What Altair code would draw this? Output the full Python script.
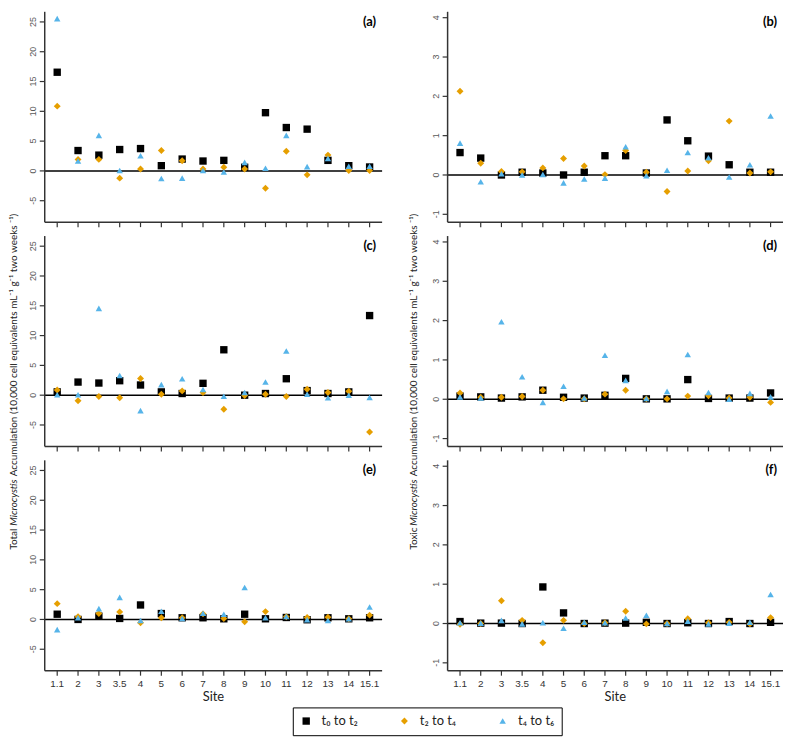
import altair as alt
import pandas as pd

sites = ["1.1", "2", "3", "3.5", "4", "5", "6", "7", "8", "9", "10", "11", "12", "13", "14", "15.1"]
series = ["t₀ to t₂", "t₂ to t₄", "t₄ to t₆"]
colors = ["#000000", "#E69F00", "#56B4E9"]
shapes = ["square", "diamond", "triangle-up"]
sizes = [55, 42, 52]

# (a) Total, upper
a_t0 = [16.56, 3.42, 2.65, 3.59, 3.75, 0.88, 1.99, 1.66, 1.77, 0.61, 9.77, 7.28, 7.01, 1.77, 0.88, 0.66]
a_t2 = [10.87, 1.93, 1.93, -1.21, 0.33, 3.42, 1.71, 0.33, 0.61, 0.33, -2.92, 3.31, -0.66, 2.65, 0.06, 0.05]
a_t4 = [25.55, 1.66, 5.96, 0.06, 2.54, -1.27, -1.21, 0.06, -0.17, 1.43, 0.44, 5.96, 0.72, 2.10, 0.77, 0.77]
# (b) Toxic, upper
b_t0 = [0.57, 0.43, 0.00, 0.07, 0.05, 0.00, 0.07, 0.49, 0.49, 0.05, 1.40, 0.87, 0.48, 0.26, 0.07, 0.07]
b_t2 = [2.13, 0.30, 0.09, 0.08, 0.18, 0.42, 0.23, 0.01, 0.62, 0.07, -0.42, 0.10, 0.36, 1.37, 0.05, 0.08]
b_t4 = [0.81, -0.17, 0.03, 0.00, 0.01, -0.20, -0.10, -0.08, 0.72, -0.02, 0.12, 0.57, 0.44, -0.05, 0.26, 1.50]
# (c) Total, middle
c_t0 = [0.55, 2.20, 2.04, 2.43, 1.71, 0.55, 0.28, 1.99, 7.62, 0.00, 0.28, 2.76, 0.77, 0.28, 0.55, 13.36]
c_t2 = [0.88, -0.94, -0.22, -0.44, 2.81, 0.17, 0.72, 0.44, -2.37, -0.06, 0.17, -0.22, 0.99, 0.44, 0.66, -6.18]
c_t4 = [0.06, 0.06, 14.57, 3.31, -2.59, 1.77, 2.76, 0.94, -0.17, 0.44, 2.21, 7.40, 0.17, -0.44, 0.00, -0.39]
# (d) Toxic, middle
d_t0 = [0.08, 0.06, 0.03, 0.06, 0.23, 0.05, 0.03, 0.10, 0.53, 0.01, 0.01, 0.50, 0.02, 0.03, 0.03, 0.16]
d_t2 = [0.16, 0.05, 0.05, 0.07, 0.23, 0.01, 0.01, 0.13, 0.23, 0.01, 0.01, 0.08, 0.09, 0.03, 0.05, -0.08]
d_t4 = [0.06, 0.03, 1.97, 0.57, -0.08, 0.33, 0.03, 1.12, 0.48, 0.02, 0.20, 1.14, 0.17, 0.00, 0.15, 0.06]
# (e) Total, lower
e_t0 = [0.88, 0.00, 0.55, 0.17, 2.43, 0.99, 0.28, 0.28, 0.11, 0.88, 0.11, 0.33, -0.05, 0.28, 0.11, 0.28]
e_t2 = [2.65, 0.44, 0.99, 1.27, -0.55, 0.28, 0.28, 0.94, 0.17, -0.39, 1.32, 0.44, 0.33, 0.39, 0.11, 0.72]
e_t4 = [-1.71, 0.28, 1.82, 3.70, -0.17, 1.38, 0.17, 1.05, 0.88, 5.35, 0.28, 0.50, -0.05, -0.17, 0.11, 2.10]
# (f) Toxic, lower
f_t0 = [0.05, 0.01, 0.01, 0.00, 0.93, 0.27, 0.00, 0.01, 0.01, 0.03, 0.00, 0.02, 0.00, 0.05, 0.00, 0.03]
f_t2 = [-0.02, 0.00, 0.58, 0.08, -0.49, 0.08, 0.00, 0.02, 0.31, -0.01, 0.00, 0.12, 0.02, 0.03, -0.01, 0.15]
f_t4 = [0.02, 0.01, 0.08, -0.01, 0.02, -0.12, 0.03, 0.02, 0.14, 0.21, 0.00, 0.06, -0.01, 0.01, 0.03, 0.74]

total_domain = [-8.6, 26.7]
total_ticks = [-5, 0, 5, 10, 15, 20, 25]
toxic_domain = [-1.2, 4.15]
toxic_ticks = [-1, 0, 1, 2, 3, 4]

title_rest = "Accumulation (10,000 cell equivalents mL⁻¹ g⁻¹ two weeks ⁻¹)"

LEFT_W, RIGHT_W, H = 340, 338, 212
X_PAD = 0.6
TICK_PX = 5
AXIS_COLOR = "#333333"
LABEL_COLOR = "#595959"
FONT = "Lato"


def panel(t0, t2, t4, total, label, bottom):
    rows = []
    for s, vals in zip(series, [t0, t2, t4]):
        for i, (site, v) in enumerate(zip(sites, vals)):
            rows.append({"idx": i, "site": site, "series": s, "value": v})
    df = pd.DataFrame(rows)
    w = LEFT_W if total else RIGHT_W
    dom = total_domain if total else toxic_domain
    ticks = total_ticks if total else toxic_ticks

    xdom_vals = [-X_PAD, len(sites) - 1 + X_PAD]
    xs = alt.Scale(domain=xdom_vals, nice=False, zero=False)
    ys = alt.Scale(domain=dom, nice=False, zero=False)
    # tick lengths expressed in data units of each scale
    x_unit = (xdom_vals[1] - xdom_vals[0]) / w
    y_unit = (dom[1] - dom[0]) / H

    leg = alt.Legend(orient="none", legendX=286, legendY=701, direction="horizontal", title=None)

    pts = alt.Chart(df).mark_point(filled=True, opacity=1, strokeWidth=0).encode(
        x=alt.X("idx:Q", scale=xs, axis=None),
        y=alt.Y("value:Q", scale=ys, axis=None),
        color=alt.Color("series:N", sort=series, scale=alt.Scale(domain=series, range=colors),
                        legend=leg),
        shape=alt.Shape("series:N", sort=series, scale=alt.Scale(domain=series, range=shapes),
                        legend=leg),
        size=alt.Size("series:N", scale=alt.Scale(domain=series, range=sizes), legend=None),
    )
    zero = alt.Chart(pd.DataFrame({"z": [0]})).mark_rule(color="black", strokeWidth=1.5).encode(
        y=alt.Y("z:Q", scale=ys, axis=None)
    )
    frame = pd.DataFrame({
        "x0": [xdom_vals[0]], "x1": [xdom_vals[1]], "y0": [dom[0]], "y1": [dom[1]],
    })
    xaxis_line = alt.Chart(frame).mark_rule(color=AXIS_COLOR, strokeWidth=1.5).encode(
        x=alt.X("x0:Q", scale=xs, axis=None), x2="x1:Q",
        y=alt.Y("y0:Q", scale=ys, axis=None),
    )
    yaxis_line = alt.Chart(frame).mark_rule(color=AXIS_COLOR, strokeWidth=1.5).encode(
        x=alt.X("x0:Q", scale=xs, axis=None),
        y=alt.Y("y0:Q", scale=ys, axis=None), y2="y1:Q",
    )
    tick_df = pd.DataFrame({
        "v": ticks, "lab": [str(t) for t in ticks],
        "xa": [xdom_vals[0] - TICK_PX * x_unit] * len(ticks),
        "xb": [xdom_vals[0]] * len(ticks),
    })
    yticks = alt.Chart(tick_df).mark_rule(color=AXIS_COLOR, strokeWidth=1.2).encode(
        x=alt.X("xa:Q", scale=xs, axis=None), x2="xb:Q",
        y=alt.Y("v:Q", scale=ys, axis=None),
    )
    ylabels = alt.Chart(tick_df).mark_text(
        angle=270, align="center", baseline="bottom", fontSize=9, font="Liberation Sans",
        color=LABEL_COLOR
    ).encode(y=alt.Y("v:Q", scale=ys, axis=None), x=alt.value(-7), text="lab:N")
    site_df = pd.DataFrame({
        "idx": list(range(len(sites))), "site": sites,
        "ya": [dom[0]] * len(sites), "yb": [dom[0] - TICK_PX * y_unit] * len(sites),
    })
    xticks = alt.Chart(site_df).mark_rule(color=AXIS_COLOR, strokeWidth=1.2).encode(
        x=alt.X("idx:Q", scale=xs, axis=None),
        y=alt.Y("ya:Q", scale=ys, axis=None), y2="yb:Q",
    )
    lab = alt.Chart(pd.DataFrame({"t": [label]})).mark_text(
        align="right", baseline="top", fontWeight="bold", fontSize=13, font=FONT, color="black"
    ).encode(text="t:N", x=alt.value(w - 6), y=alt.value(4))
    layers = [zero, xaxis_line, yaxis_line, yticks, ylabels, xticks, pts, lab]
    if bottom:
        xlabels = alt.Chart(site_df).mark_text(
            align="center", baseline="top", fontSize=10, font="Liberation Sans", color="#333333"
        ).encode(x=alt.X("idx:Q", scale=xs, axis=None), y=alt.value(H + 8), text="site:N")
        xtitle = alt.Chart(pd.DataFrame({"t": ["Site"]})).mark_text(
            align="center", baseline="top", fontSize=13, font=FONT, color="#222222"
        ).encode(text="t:N", x=alt.value(w / 2), y=alt.value(H + 21))
        layers += [xlabels, xtitle]
    return alt.layer(*layers).properties(width=w, height=H)


def title_column(first_word):
    parts = [
        (first_word, "normal", 542),
        ("Microcystis", "italic", 518),
        (title_rest, "normal", 468),
    ]
    layers = []
    for txt, style, yy in parts:
        layers.append(
            alt.Chart(pd.DataFrame({"t": [txt]})).mark_text(
                angle=270, align="left", baseline="top", fontSize=10, font=FONT,
                fontStyle=style, color="#222222"
            ).encode(text="t:N", x=alt.value(0), y=alt.value(yy))
        )
    return alt.layer(*layers).properties(width=12, height=3 * H + 24)


pa = panel(a_t0, a_t2, a_t4, True, "(a)", False)
pb = panel(b_t0, b_t2, b_t4, False, "(b)", False)
pc = panel(c_t0, c_t2, c_t4, True, "(c)", False)
pd_ = panel(d_t0, d_t2, d_t4, False, "(d)", False)
pe = panel(e_t0, e_t2, e_t4, True, "(e)", True)
pf = panel(f_t0, f_t2, f_t4, False, "(f)", True)

left = alt.hconcat(title_column("Total"), alt.vconcat(pa, pc, pe, spacing=7), spacing=8)
right = alt.hconcat(title_column("Toxic"), alt.vconcat(pb, pd_, pf, spacing=7), spacing=10)

chart = alt.hconcat(left, right, spacing=25).properties(
    padding=0
).configure_view(stroke=None).configure_legend(
    strokeColor="black", strokeWidth=1, padding=7, symbolSize=28, labelFontSize=13,
    labelFont=FONT, labelColor="#222222", columnPadding=40, labelOffset=9, fillColor="white",
    symbolStrokeWidth=0,
)

chart.save("out.html", embed_options={"renderer": "svg", "actions": False})
